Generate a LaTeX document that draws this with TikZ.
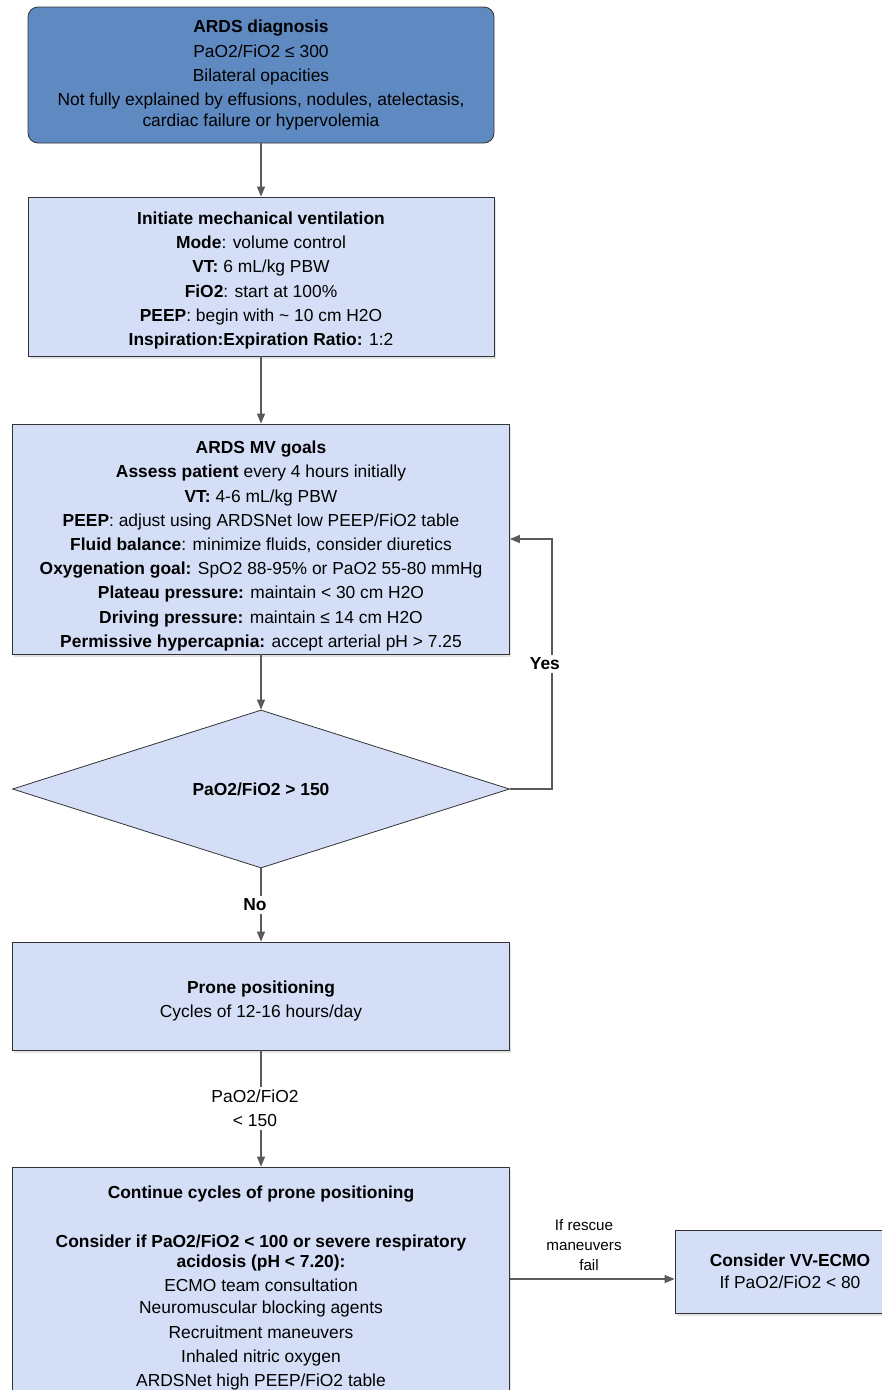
\documentclass[tikz,border=0pt]{standalone}
\usepackage{fontspec}
\setmainfont{Liberation Sans}
\usetikzlibrary{arrows.meta,shapes.geometric,shadows}
\definecolor{chartdeep}{HTML}{5E8AC1}
\definecolor{chartpale}{HTML}{D4DFF7}
\definecolor{chartedge}{HTML}{333333}
\definecolor{chartlink}{HTML}{5A5A5A}
\newcommand{\chartfont}{\fontsize{17.4}{20.5}\selectfont}
\newcommand{\smallchartfont}{\fontsize{15.2}{20}\selectfont}
\newcommand{\stepline}{\\[3.7pt]}
% pushes a box's text down a little
\newcommand{\textdrop}[1]{\rule{0pt}{#1}}

\begin{document}
\begin{tikzpicture}[
  x=1pt,
  y=-1pt,
  every node/.style={font=\chartfont, text=black, align=center, inner sep=0pt},
  topbox/.style={draw=chartedge, line width=0.8pt, fill=chartdeep,
    rounded corners=10pt},
  stepbox/.style={draw=chartedge, line width=0.8pt, fill=chartpale,
    drop shadow={shadow xshift=1.5pt, shadow yshift=-2.5pt, opacity=0.22}},
  choice/.style={diamond, draw=chartedge, line width=0.8pt, fill=chartpale,
    aspect=3.15, minimum width=497pt, minimum height=158pt},
  link/.style={chartlink, line width=1.2pt, -{Triangle[length=10pt, width=8pt]}},
  tag/.style={fill=white, inner sep=3pt}
]
  \useasboundingbox (0,0) rectangle (882,1390);
  \clip (0,0) rectangle (882,1390);

  % ---- the boxes, top to bottom ----------------------------------------
  \node[topbox, minimum width=466pt, minimum height=136pt] (diag) at (261,75)
    {\textbf{ARDS diagnosis}\stepline
     PaO2/FiO2 ≤ 300\stepline
     Bilateral opacities\stepline
     Not fully explained by effusions, nodules, atelectasis,\\
     cardiac failure or hypervolemia};

  \node[stepbox, minimum width=466pt, minimum height=159pt] (init) at (261,276.5)
    {\textdrop{20.7pt}\textbf{Initiate mechanical ventilation}\stepline
     \textbf{Mode}: volume control\stepline
     \textbf{VT:} 6 mL/kg PBW\stepline
     \textbf{FiO2}: start at 100\%\stepline
     \textbf{PEEP}: begin with \textasciitilde{} 10 cm H2O\stepline
     \textbf{Inspiration:Expiration Ratio:} 1:2};

  \node[stepbox, minimum width=497pt, minimum height=230pt] (goals) at (261,539)
    {\textdrop{26.7pt}\textbf{ARDS MV goals}\stepline
     \textbf{Assess patient} every 4 hours initially\stepline
     \textbf{VT:} 4-6 mL/kg PBW\stepline
     \textbf{PEEP}: adjust using ARDSNet low PEEP/FiO2 table\stepline
     \textbf{Fluid balance}: minimize fluids, consider diuretics\stepline
     \textbf{Oxygenation goal:} SpO2 88-95\% or PaO2 55-80 mmHg\stepline
     \textbf{Plateau pressure:} maintain < 30 cm H2O\stepline
     \textbf{Driving pressure:} maintain ≤ 14 cm H2O\stepline
     \textbf{Permissive hypercapnia:} accept arterial pH > 7.25};

  \node[choice] (check) at (261,789) {\textbf{PaO2/FiO2 > 150}};

  \node[stepbox, minimum width=497pt, minimum height=108pt] (prone) at (261,996)
    {\textdrop{22.7pt}\textbf{Prone positioning}\stepline
     Cycles of 12-16 hours/day};

  \node[stepbox, minimum width=497pt, minimum height=224pt] (cont) at (261,1279)
    {\textdrop{30.7pt}\textbf{Continue cycles of prone positioning}\stepline
     \mbox{}\stepline
     \textbf{Consider if PaO2/FiO2 < 100 or severe respiratory}\\
     \textbf{acidosis (pH < 7.20):}\stepline
     ECMO team consultation\\[1.5pt]
     Neuromuscular blocking agents\stepline
     Recruitment maneuvers\stepline
     Inhaled nitric oxygen\stepline
     ARDSNet high PEEP/FiO2 table};

  \node[stepbox, minimum width=230pt, minimum height=83pt] (ecmo) at (790,1271.5)
    {\textbf{Consider VV-ECMO}\\[1pt]
     If PaO2/FiO2 < 80};

  % ---- connectors ------------------------------------------------------
  \draw[link] (diag) -- (init);
  \draw[link] (init) -- (goals);
  \draw[link] (goals) -- (check);
  \draw[link] (check) -- node[tag, xshift=-6pt] {\textbf{No}} (prone);
  \draw[link] (check.east) -- ++(42,0) |- node[pos=0.25, tag, xshift=-7pt]
    {\textbf{Yes}} (goals.east);
  \draw[link] (prone) -- node[tag, xshift=-6pt] {PaO2/FiO2\\[3pt] < 150} (cont);
  \draw[link] (cont.east) -- node[pos=0.45, above=8pt, font=\smallchartfont]
    {If rescue\\ maneuvers\\ \hspace*{10pt}fail} (cont.east -| ecmo.west);
\end{tikzpicture}
\end{document}
